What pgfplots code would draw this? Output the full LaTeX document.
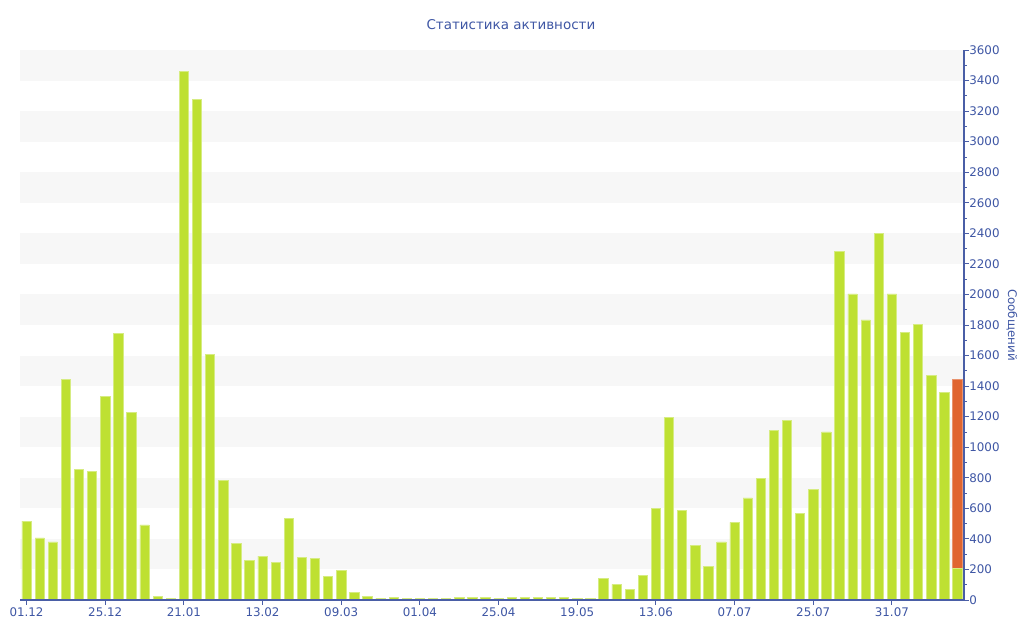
\documentclass[border=0pt]{standalone}
\usepackage{pgfplots}
\pgfplotsset{compat=1.18}
\usepackage{fontspec}
\setmainfont{DejaVu Sans}
\definecolor{txtblue}{RGB}{62,86,164}
\definecolor{axblue}{RGB}{74,94,166}
\definecolor{barg}{RGB}{190,224,50}
\definecolor{bargl}{RGB}{214,236,130}
\definecolor{baro}{RGB}{224,101,48}
\definecolor{bandgray}{RGB}{247,247,247}
\begin{document}
\begin{tikzpicture}
\begin{axis}[
  at={(15pt,30pt)}, anchor=south west,
  scale only axis, width=708pt, height=412.5pt,
  xmin=-0.5, xmax=71.5, ymin=0, ymax=3600,
  hide axis,
]
\fill[bandgray] (axis cs:-0.5,200) rectangle (axis cs:71.5,400);
\fill[bandgray] (axis cs:-0.5,600) rectangle (axis cs:71.5,800);
\fill[bandgray] (axis cs:-0.5,1000) rectangle (axis cs:71.5,1200);
\fill[bandgray] (axis cs:-0.5,1400) rectangle (axis cs:71.5,1600);
\fill[bandgray] (axis cs:-0.5,1800) rectangle (axis cs:71.5,2000);
\fill[bandgray] (axis cs:-0.5,2200) rectangle (axis cs:71.5,2400);
\fill[bandgray] (axis cs:-0.5,2600) rectangle (axis cs:71.5,2800);
\fill[bandgray] (axis cs:-0.5,3000) rectangle (axis cs:71.5,3200);
\fill[bandgray] (axis cs:-0.5,3400) rectangle (axis cs:71.5,3600);
\end{axis}
\begin{axis}[
  at={(15pt,30pt)}, anchor=south west,
  scale only axis, width=708pt, height=412.5pt,
  xmin=-0.5, xmax=71.5, ymin=0, ymax=3600,
  axis on top,
  axis x line=bottom, axis y line=right,
  x axis line style={-, draw=axblue, line width=0.8pt},
  y axis line style={-, draw=axblue, line width=0.8pt},
  ybar, bar width=0.71, bar shift=0pt,
  xtick={0,6,...,66},
  xticklabels={01.12,25.12,21.01,13.02,09.03,01.04,25.04,19.05,13.06,07.07,25.07,31.07},
  ytick={0,200,...,3600},
  minor y tick num=1,
  tick align=outside,
  major tick length=3.5pt, minor tick length=2.2pt,
  tick style={draw=axblue, line width=0.6pt},
  /pgf/number format/assume math mode=true,
  /pgf/number format/1000 sep={},
  tick label style={font=\fontsize{8.9}{10}\selectfont, text=txtblue},
  yticklabel style={xshift=-3pt},
  xticklabel style={yshift=1pt},
  title={Статистика активности},
  title style={at={(0.52,1)}, anchor=center, yshift=12.75pt, font=\fontsize{10.1}{12}\selectfont, text=txtblue},
  ylabel={Сообщений},
  ylabel style={at={(axis description cs:1.0508,0.5)}, anchor=center, rotate=180, font=\fontsize{8.9}{10}\selectfont, text=txtblue},
]
\addplot[fill=baro, draw=baro!70!white, line width=0.5pt] coordinates {(71,1447)};
\addplot[fill=barg, draw=bargl, line width=0.5pt] coordinates {
(0,517) (1,406) (2,380) (3,1446) (4,857) (5,844) (6,1335) (7,1747) (8,1230) (9,491)
(10,26) (11,13) (12,3458) (13,3277) (14,1606) (15,785) (16,373) (17,257) (18,288) (19,248)
(20,532) (21,281) (22,273) (23,157) (24,192) (25,52) (26,22) (27,13) (28,17) (29,11)
(30,11) (31,9) (32,13) (33,17) (34,17) (35,17) (36,11) (37,17) (38,17) (39,15)
(40,15) (41,15) (42,13) (43,13) (44,140) (45,103) (46,68) (47,159) (48,597) (49,1193)
(50,587) (51,356) (52,222) (53,380) (54,508) (55,668) (56,796) (57,1110) (58,1174) (59,565)
(60,724) (61,1100) (62,2284) (63,2003) (64,1833) (65,2402) (66,2003) (67,1751) (68,1804) (69,1470)
(70,1357) (71,207)
};
\end{axis}
\pgfresetboundingbox
\path (0,0) rectangle (768pt,480pt);
\end{tikzpicture}
\end{document}
